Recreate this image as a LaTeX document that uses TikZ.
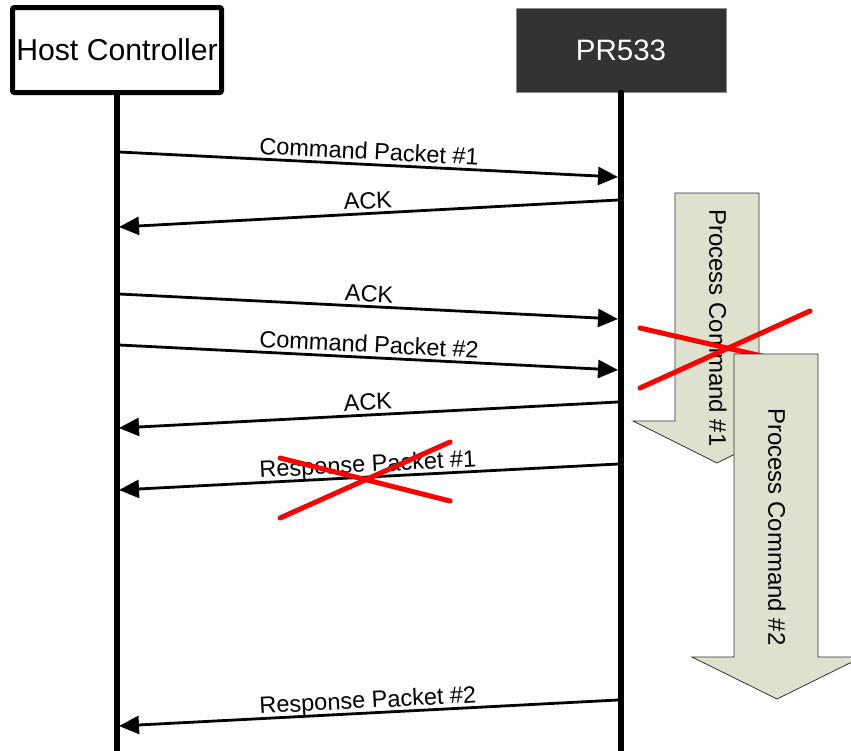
\documentclass[tikz,border=0pt]{standalone}
\usepackage{fontspec}
\setmainfont{Liberation Sans}
\usetikzlibrary{arrows.meta}
\definecolor{procfill}{RGB}{221,225,205}
\definecolor{prfill}{RGB}{51,51,51}
\begin{document}
\begin{tikzpicture}[x=1pt,y=-1pt,
  msg/.style={line width=2.8pt,-{Triangle[length=20pt,width=18pt]}},
  lbl/.style={font=\fontsize{23.5}{27}\selectfont, inner sep=0pt, text depth=0pt, above=3.5pt, sloped, midway},
  life/.style={line width=5.5pt, line cap=round},
  cross/.style={draw=red, line width=5pt, line cap=round},
  proc/.style={draw=black!80, line width=0.8pt, fill=procfill},
  proctext/.style={rotate=-90, font=\fontsize{24}{28}\selectfont, inner sep=0pt}]
\clip (0,0) rectangle (851,750);
\fill[white] (0,0) rectangle (851,750);
% participants
\node[draw, line width=5pt, rounded corners=2pt, minimum width=209pt, minimum height=85pt,
      font=\fontsize{30.2}{34}\selectfont, inner sep=0pt, fill=white] (host) at (117,50) {Host Controller};
\node[draw=black!45, line width=0.8pt, fill=prfill, text=white, minimum width=210pt, minimum height=84pt,
      font=\fontsize{29.5}{34}\selectfont, inner sep=0pt] (pr) at (621,50) {PR533};
\coordinate (hostEnd) at (117,760);
\coordinate (prEnd) at (621,760);
\draw[life] (host.south) -- (hostEnd);
\draw[life] (pr.south) -- (prEnd);
% message end points
\coordinate (h1) at (119,152); \coordinate (p1) at (618,177);
\coordinate (p2) at (618,200); \coordinate (h2) at (119,227);
\coordinate (h3) at (119,294); \coordinate (p3) at (618,319);
\coordinate (h4) at (119,345); \coordinate (p4) at (618,370);
\coordinate (p5) at (618,402); \coordinate (h5) at (119,428);
\coordinate (p6) at (618,464); \coordinate (h6) at (119,490);
\coordinate (p7) at (618,700); \coordinate (h7) at (119,726);
\draw[msg] (h1) -- (p1) node[lbl] {Command Packet \#1};
\draw[msg] (p2) -- (h2) node[lbl] {ACK};
\draw[msg] (h3) -- (p3) node[lbl] {ACK};
\draw[msg] (h4) -- (p4) node[lbl] {Command Packet \#2};
\draw[msg] (p5) -- (h5) node[lbl] {ACK};
\draw[msg] (p6) -- (h6) node[lbl] {Response Packet \#1};
\draw[msg] (p7) -- (h7) node[lbl] {Response Packet \#2};
% crossed response
\draw[cross] (280,458) -- (450,501);
\draw[cross] (280,518) -- (450,442);
% process command 1
\draw[proc] (675,193) -- (759,193) -- (759,421) -- (801,421) -- (717,463) -- (633,421) -- (675,421) -- cycle;
\node[proctext] (pc1) at (718,328) {Process Command \#1};
\draw[cross] (640,328) -- (814,368);
\draw[cross] (640,388) -- (810,311);
% process command 2
\draw[proc] (734,354) -- (818,354) -- (818,657) -- (862,657) -- (777,699) -- (692,657) -- (734,657) -- cycle;
\node[proctext] (pc2) at (777,527) {Process Command \#2};
\end{tikzpicture}
\end{document}
